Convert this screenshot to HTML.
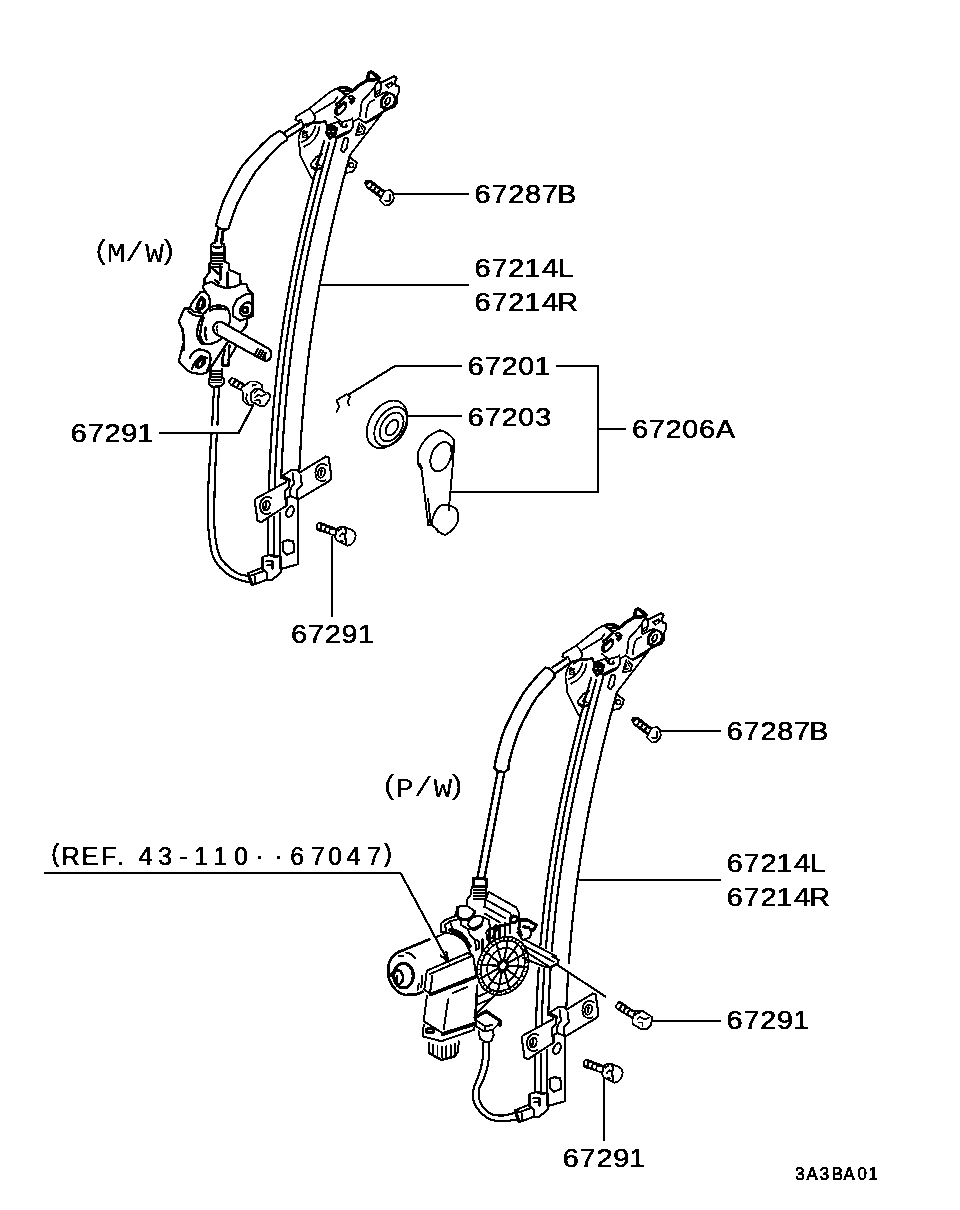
<!DOCTYPE html>
<html lang="en">
<head>
<meta charset="utf-8">
<title>Window regulator diagram</title>
<style>
html,body{margin:0;padding:0;background:#fff;}
body{width:960px;height:1210px;overflow:hidden;}
svg{display:block;}
text{font-family:"Liberation Sans",sans-serif;fill:#000;}
.t{stroke:#000;stroke-width:0.55px;}
.m{font-family:"Liberation Mono",monospace;stroke:#000;stroke-width:0.1px;}
.s{stroke:#000;stroke-width:0.7px;}
.l{stroke:#000;stroke-width:2;fill:none;stroke-linecap:butt;stroke-linejoin:miter;}
.d{stroke:#000;stroke-width:1.8;fill:none;stroke-linecap:round;stroke-linejoin:round;}
.w{fill:#fff;}
.k{fill:#000;}
</style>
</head>
<body>
<svg width="960" height="1210" viewBox="0 0 960 1210">
<defs><filter id="bw" x="0" y="0" width="960" height="1210" filterUnits="userSpaceOnUse" color-interpolation-filters="sRGB"><feComponentTransfer><feFuncA type="discrete" tableValues="0 0 1 1"/></feComponentTransfer></filter></defs>
<rect width="960" height="1210" fill="#fff"/>
<g id="parts" class="d" shape-rendering="crispEdges">
<g id="upper-regulator">
<!-- A_05_rails -->
<g stroke-width="2.185">
<path d="M350.0 155.0L346.7 167.0L343.5 179.0L340.4 191.0L337.4 203.0L334.5 215.0L331.7 227.0L329.0 239.0L326.4 251.0L323.9 263.0L321.5 275.0L319.3 287.0L317.2 299.0L315.2 311.0L313.3 323.0L311.5 335.0L309.8 347.0L308.3 359.0L306.9 371.0L305.6 383.0L304.4 395.0L303.3 407.0L302.4 419.0L301.5 431.0L300.8 443.0L300.1 455.0L299.5 467.0L299.3 472.0"/>
<path d="M336.3 140.0L332.9 152.0L329.6 164.0L326.4 176.0L323.3 188.0L320.2 200.0L317.3 212.0L314.5 224.0L311.7 236.0L309.1 248.0L306.6 260.0L304.2 272.0L301.9 284.0L299.8 296.0L297.7 308.0L295.8 320.0L294.0 332.0L292.3 344.0L290.8 356.0L289.3 368.0L288.0 380.0L286.8 392.0L285.7 404.0L284.7 416.0L283.8 428.0L283.0 440.0L282.4 452.0L281.8 464.0L281.3 476.0L281.2 478.0"/>
<path d="M329.2 143.0L325.9 155.0L322.6 167.0L319.4 179.0L316.3 191.0L313.3 203.0L310.4 215.0L307.6 227.0L304.9 239.0L302.3 251.0L299.8 263.0L297.4 275.0L295.2 287.0L293.1 299.0L291.1 311.0L289.2 323.0L287.4 335.0L285.7 347.0L284.2 359.0L282.8 371.0L281.5 383.0L280.3 395.0L279.2 407.0L278.3 419.0L277.4 431.0L276.7 443.0L276.0 455.0L275.4 467.0L274.9 479.0L274.6 488.0"/>
<path d="M324.1 141.0L320.7 153.0L317.4 165.0L314.2 177.0L311.1 189.0L308.1 201.0L305.2 213.0L302.3 225.0L299.6 237.0L297.0 249.0L294.5 261.0L292.1 273.0L289.9 285.0L287.7 297.0L285.7 309.0L283.8 321.0L282.0 333.0L280.3 345.0L278.8 357.0L277.3 369.0L276.0 381.0L274.8 393.0L273.7 405.0L272.7 417.0L271.9 429.0L271.1 441.0L270.4 453.0L269.8 465.0L269.3 477.0L268.9 489.0L268.9 490.0"/>
</g>
<!-- A_30_bracket -->
<g transform="translate(270 60) scale(0.083333)" stroke-width="23">
<!-- sleeve -->
<path d="M310 680L470 585M310 680L305 720L330 730L375 720L395 770M470 585Q535 640 545 700L530 730"/>
<path d="M400 785L530 750L665 742" stroke-width="34.5"/>
<!-- top edge -->
<path d="M470 585L720 385L790 345"/>
<path d="M545 635L770 500L810 450"/>
<!-- rivet -->
<path d="M795 345L840 325L900 316L950 333L988 360L965 392L905 425L830 365Z" fill="#000" stroke-width="18.4"/>
<path class="w" stroke="none" d="M845 347L892 345L898 358L855 360ZM895 385L952 382L945 400L905 402Z"/>
<path d="M905 435L790 540" stroke-width="34.5"/>
<path d="M935 440L980 425L1020 460L1010 500L975 530L955 510L970 480L945 465Z" fill="#000" stroke-width="16.1"/>
<path class="w" stroke="none" d="M952 445L982 442L978 458L958 458Z"/>
<!-- thick bar to tip -->
<path d="M982 378L1060 308L1160 248L1270 236" stroke-width="41.4"/>
<path d="M1160 238L1175 152L1210 136L1245 150L1318 212L1310 245L1275 240Z" fill="#000" stroke-width="25.3"/>
<path class="w" stroke="none" d="M1198 170L1222 166L1262 214L1202 216Z"/>
<path d="M1310 245L1265 300L1255 350L1255 430L1270 445L1320 420L1360 395L1410 385"/>
<!-- second prong -->
<path d="M1320 270L1340 270L1485 195L1515 205L1520 220L1500 260L1510 310L1545 318L1545 390L1520 440L1520 520L1490 560L1370 612" stroke-width="25.3"/>
<path d="M1320 270L1330 300L1335 340L1320 380"/>
<path d="M1385 300L1460 265L1485 290L1420 340Z" fill="#000" stroke-width="16.1"/>
<path class="w" stroke="none" d="M1420 302L1452 290L1458 305L1428 322Z"/>
<path d="M1270 380L1310 362L1320 390L1280 412Z" stroke-width="18.4"/>
<!-- hole -->
<path d="M1325 520L1340 460L1380 410L1440 392L1490 420L1510 470L1495 530L1440 580L1370 595L1330 560Z" fill="#000" stroke-width="20.7"/>
<path class="w" stroke="none" d="M1388 440L1435 412L1472 430L1488 470L1475 520L1432 558L1388 565L1410 548L1442 515L1455 470L1442 440L1415 445L1385 485L1375 530L1388 565L1360 545L1360 490Z"/>
<ellipse cx="1410" cy="492" rx="26" ry="42" transform="rotate(30 1410 492)" fill="#fff" stroke-width="18.4"/>
<path d="M1400 475L1392 505" stroke-width="16.1"/>
<!-- left slot -->
<path d="M780 640L775 600L800 560L890 500L920 520L920 560L905 590L840 655L800 665Z" fill="#000" stroke-width="16.1"/>
<path class="w" stroke="none" d="M812 602L880 542L896 552L886 588L836 634L816 630Z"/>
<!-- lower edge -->
<path d="M780 680L830 725L865 745L970 715L985 700L995 740L1065 700L1105 735L1150 755L1280 690L1370 612"/>
<path d="M860 745L860 790L900 810L925 790L915 770"/>
<path d="M992 740L995 800L970 840L780 930"/>
<path d="M1150 752L1360 622" stroke-width="29.9"/>
<path d="M1365 615L960 1140"/>
<!-- right tab on L4 -->
<path d="M960 1170L1040 1230L1035 1280L990 1340L920 1355"/>
<circle cx="975" cy="1262" r="28" stroke-width="18.4"/>
<!-- creases -->
<path d="M1080 680L1090 590L1100 510L1120 480L1250 335M1150 690L1160 600L1175 540L1200 505L1245 480"/>
<!-- small tab -->
<path d="M1070 760L1030 900L1120 890L1140 820L1100 770"/>
<path d="M1070 810L1060 870L1100 860M1085 790L1110 830" stroke-width="18.4"/>
<!-- z1 part: left plate -->
<path d="M395 810L360 875L342 950L345 1025L362 1070L355 1130L490 1400L510 1425"/>
<circle cx="418" cy="905" r="28" stroke-width="18.4"/>
<circle cx="418" cy="905" r="7" fill="#000" stroke-width="9.2"/>
<path d="M390 860Q420 850 450 870M440 800L470 780"/>
<path d="M385 985Q510 930 545 795M410 1040Q560 980 595 805"/>
<!-- center hole dark -->
<path d="M690 800L680 880L720 940L780 900L800 820L750 790Z" stroke-width="34.5" fill="#000"/>
<path class="w" stroke="none" d="M700 850h18v18h-18zM745 850h18v18h-18zM715 895h18v18h-18z"/>
<path d="M665 745L690 800M700 780L820 740L850 790L880 810L920 790"/>
<path d="M790 950L960 860"/>
<!-- slot -->
<path d="M890 940L920 930L940 950L920 1060L880 1110L850 1080Z"/>
<!-- ear -->
<path d="M625 1130L555 1165L488 1250L500 1292L545 1322L605 1308"/>
<path d="M580 1190L550 1250L620 1270M510 1280L570 1310L620 1290" stroke-width="20.7"/>
</g>
<!-- A_40_lower -->
<g transform="translate(200 440) scale(0.166667)" stroke-width="12.65">
<!-- cable end piece + connector block -->
<path d="M288 800L368 768L400 795V838L322 868L300 850Z"/>
<path d="M292 808L312 866" stroke-width="20.7"/>
<path d="M312 812L385 785M330 822V850"/>
<path d="M375 768V702L420 688L488 702V792L430 842L400 842"/>
<path d="M398 728H435V775M405 752H432M420 692Q450 706 470 697"/>
<!-- plates -->
<path d="M519 251L334 352L328 364L345 482L367 493L514 397"/>
<path d="M428 350Q398 328 370 360Q352 395 368 430Q390 452 420 440" stroke-width="11.5"/>
<ellipse cx="397" cy="393" rx="20" ry="30" transform="rotate(15 397 393)" stroke-width="11.5"/>
<path d="M398 380L392 408" stroke-width="13.8"/>
<path d="M598 195L755 99L772 105L789 223L778 245L598 352"/>
<path d="M760 152Q730 130 702 162Q684 197 700 232Q722 254 752 242" stroke-width="11.5"/>
<ellipse cx="729" cy="196" rx="20" ry="30" transform="rotate(15 729 196)" stroke-width="11.5"/>
<path d="M730 183L724 211" stroke-width="13.8"/>
<!-- clamp -->
<path d="M491 217L547 181H581L598 195"/>
<path d="M525 234L536 251L531 285L508 307L511 352"/>
<path d="M556 200V234L567 257L547 285L539 307L542 330"/>
<path d="M604 212L607 246L612 268L581 302V352"/>
<path d="M497 225L536 240" stroke-width="23"/>
<path d="M514 352L542 336L581 352"/>
<!-- lower plate -->
<path d="M519 357V395M590 350V745L492 772"/>
<ellipse cx="540" cy="430" rx="20" ry="34" transform="rotate(25 540 430)"/>
<path d="M495 612L520 602L560 605L565 670L520 690L498 668Z"/>
<!-- rails below -->
<path d="M406 470V695M443 460V695M479 440V768"/>
</g>
<!-- A_45_bolt -->
<g transform="translate(302 505) scale(0.0625)" stroke-width="27.6">
<path class="k" stroke="none" d="M260 270L320 278L560 372L540 505L260 418L228 395L225 320Z"/>
<path class="w" stroke="none" d="M258 305L292 298L290 372L258 368ZM325 340L368 330L352 398L322 392ZM390 372L435 362L420 432L388 418ZM452 398L535 392L528 462L458 458Z"/>
<path d="M560 375L600 355H690L800 400L840 430L860 490L840 570L790 630L730 650L660 620L560 570L530 520Z" fill="#fff" stroke-width="29.9"/>
<path d="M690 370L702 420L690 480L702 610" stroke-width="34.5"/>
<path d="M580 410L625 385M600 500L645 450L680 480M620 570L665 585" stroke-width="29.9"/>
</g>
<!-- A_60_screw -->
<g transform="translate(350 165) scale(0.0625)" stroke-width="27.6">
<path class="k" stroke="none" d="M240 245H350L560 410L480 530L260 370L225 290Z"/>
<path class="w" stroke="none" d="M300 290L352 298L318 352L272 340ZM362 332L400 345L372 390L336 375ZM422 375L460 390L432 435L396 418ZM486 422L525 440L498 485L460 465Z"/>
<path d="M560 410L650 405L690 450L700 530L680 590L620 640L560 650L510 600L480 570L500 510Z" fill="#fff" stroke-width="29.9"/>
<path d="M640 480V570H565" stroke-width="29.9"/>
</g>
</g>
<g id="lower-regulator" transform="translate(267 537)">
<!-- A_05_rails -->
<g stroke-width="2.185">
<path d="M350.0 155.0L346.7 167.0L343.5 179.0L340.4 191.0L337.4 203.0L334.5 215.0L331.7 227.0L329.0 239.0L326.4 251.0L323.9 263.0L321.5 275.0L319.3 287.0L317.2 299.0L315.2 311.0L313.3 323.0L311.5 335.0L309.8 347.0L308.3 359.0L306.9 371.0L305.6 383.0L304.4 395.0L303.3 407.0L302.4 419.0L301.5 431.0L300.8 443.0L300.1 455.0L299.5 467.0L299.3 472.0"/>
<path d="M336.3 140.0L332.9 152.0L329.6 164.0L326.4 176.0L323.3 188.0L320.2 200.0L317.3 212.0L314.5 224.0L311.7 236.0L309.1 248.0L306.6 260.0L304.2 272.0L301.9 284.0L299.8 296.0L297.7 308.0L295.8 320.0L294.0 332.0L292.3 344.0L290.8 356.0L289.3 368.0L288.0 380.0L286.8 392.0L285.7 404.0L284.7 416.0L283.8 428.0L283.0 440.0L282.4 452.0L281.8 464.0L281.3 476.0L281.2 478.0"/>
<path d="M329.2 143.0L325.9 155.0L322.6 167.0L319.4 179.0L316.3 191.0L313.3 203.0L310.4 215.0L307.6 227.0L304.9 239.0L302.3 251.0L299.8 263.0L297.4 275.0L295.2 287.0L293.1 299.0L291.1 311.0L289.2 323.0L287.4 335.0L285.7 347.0L284.2 359.0L282.8 371.0L281.5 383.0L280.3 395.0L279.2 407.0L278.3 419.0L277.4 431.0L276.7 443.0L276.0 455.0L275.4 467.0L274.9 479.0L274.6 488.0"/>
<path d="M324.1 141.0L320.7 153.0L317.4 165.0L314.2 177.0L311.1 189.0L308.1 201.0L305.2 213.0L302.3 225.0L299.6 237.0L297.0 249.0L294.5 261.0L292.1 273.0L289.9 285.0L287.7 297.0L285.7 309.0L283.8 321.0L282.0 333.0L280.3 345.0L278.8 357.0L277.3 369.0L276.0 381.0L274.8 393.0L273.7 405.0L272.7 417.0L271.9 429.0L271.1 441.0L270.4 453.0L269.8 465.0L269.3 477.0L268.9 489.0L268.9 490.0"/>
</g>
<!-- A_30_bracket -->
<g transform="translate(270 60) scale(0.083333)" stroke-width="23">
<!-- sleeve -->
<path d="M310 680L470 585M310 680L305 720L330 730L375 720L395 770M470 585Q535 640 545 700L530 730"/>
<path d="M400 785L530 750L665 742" stroke-width="34.5"/>
<!-- top edge -->
<path d="M470 585L720 385L790 345"/>
<path d="M545 635L770 500L810 450"/>
<!-- rivet -->
<path d="M795 345L840 325L900 316L950 333L988 360L965 392L905 425L830 365Z" fill="#000" stroke-width="18.4"/>
<path class="w" stroke="none" d="M845 347L892 345L898 358L855 360ZM895 385L952 382L945 400L905 402Z"/>
<path d="M905 435L790 540" stroke-width="34.5"/>
<path d="M935 440L980 425L1020 460L1010 500L975 530L955 510L970 480L945 465Z" fill="#000" stroke-width="16.1"/>
<path class="w" stroke="none" d="M952 445L982 442L978 458L958 458Z"/>
<!-- thick bar to tip -->
<path d="M982 378L1060 308L1160 248L1270 236" stroke-width="41.4"/>
<path d="M1160 238L1175 152L1210 136L1245 150L1318 212L1310 245L1275 240Z" fill="#000" stroke-width="25.3"/>
<path class="w" stroke="none" d="M1198 170L1222 166L1262 214L1202 216Z"/>
<path d="M1310 245L1265 300L1255 350L1255 430L1270 445L1320 420L1360 395L1410 385"/>
<!-- second prong -->
<path d="M1320 270L1340 270L1485 195L1515 205L1520 220L1500 260L1510 310L1545 318L1545 390L1520 440L1520 520L1490 560L1370 612" stroke-width="25.3"/>
<path d="M1320 270L1330 300L1335 340L1320 380"/>
<path d="M1385 300L1460 265L1485 290L1420 340Z" fill="#000" stroke-width="16.1"/>
<path class="w" stroke="none" d="M1420 302L1452 290L1458 305L1428 322Z"/>
<path d="M1270 380L1310 362L1320 390L1280 412Z" stroke-width="18.4"/>
<!-- hole -->
<path d="M1325 520L1340 460L1380 410L1440 392L1490 420L1510 470L1495 530L1440 580L1370 595L1330 560Z" fill="#000" stroke-width="20.7"/>
<path class="w" stroke="none" d="M1388 440L1435 412L1472 430L1488 470L1475 520L1432 558L1388 565L1410 548L1442 515L1455 470L1442 440L1415 445L1385 485L1375 530L1388 565L1360 545L1360 490Z"/>
<ellipse cx="1410" cy="492" rx="26" ry="42" transform="rotate(30 1410 492)" fill="#fff" stroke-width="18.4"/>
<path d="M1400 475L1392 505" stroke-width="16.1"/>
<!-- left slot -->
<path d="M780 640L775 600L800 560L890 500L920 520L920 560L905 590L840 655L800 665Z" fill="#000" stroke-width="16.1"/>
<path class="w" stroke="none" d="M812 602L880 542L896 552L886 588L836 634L816 630Z"/>
<!-- lower edge -->
<path d="M780 680L830 725L865 745L970 715L985 700L995 740L1065 700L1105 735L1150 755L1280 690L1370 612"/>
<path d="M860 745L860 790L900 810L925 790L915 770"/>
<path d="M992 740L995 800L970 840L780 930"/>
<path d="M1150 752L1360 622" stroke-width="29.9"/>
<path d="M1365 615L960 1140"/>
<!-- right tab on L4 -->
<path d="M960 1170L1040 1230L1035 1280L990 1340L920 1355"/>
<circle cx="975" cy="1262" r="28" stroke-width="18.4"/>
<!-- creases -->
<path d="M1080 680L1090 590L1100 510L1120 480L1250 335M1150 690L1160 600L1175 540L1200 505L1245 480"/>
<!-- small tab -->
<path d="M1070 760L1030 900L1120 890L1140 820L1100 770"/>
<path d="M1070 810L1060 870L1100 860M1085 790L1110 830" stroke-width="18.4"/>
<!-- z1 part: left plate -->
<path d="M395 810L360 875L342 950L345 1025L362 1070L355 1130L490 1400L510 1425"/>
<circle cx="418" cy="905" r="28" stroke-width="18.4"/>
<circle cx="418" cy="905" r="7" fill="#000" stroke-width="9.2"/>
<path d="M390 860Q420 850 450 870M440 800L470 780"/>
<path d="M385 985Q510 930 545 795M410 1040Q560 980 595 805"/>
<!-- center hole dark -->
<path d="M690 800L680 880L720 940L780 900L800 820L750 790Z" stroke-width="34.5" fill="#000"/>
<path class="w" stroke="none" d="M700 850h18v18h-18zM745 850h18v18h-18zM715 895h18v18h-18z"/>
<path d="M665 745L690 800M700 780L820 740L850 790L880 810L920 790"/>
<path d="M790 950L960 860"/>
<!-- slot -->
<path d="M890 940L920 930L940 950L920 1060L880 1110L850 1080Z"/>
<!-- ear -->
<path d="M625 1130L555 1165L488 1250L500 1292L545 1322L605 1308"/>
<path d="M580 1190L550 1250L620 1270M510 1280L570 1310L620 1290" stroke-width="20.7"/>
</g>
<!-- A_40_lower -->
<g transform="translate(200 440) scale(0.166667)" stroke-width="12.65">
<!-- cable end piece + connector block -->
<path d="M288 800L368 768L400 795V838L322 868L300 850Z"/>
<path d="M292 808L312 866" stroke-width="20.7"/>
<path d="M312 812L385 785M330 822V850"/>
<path d="M375 768V702L420 688L488 702V792L430 842L400 842"/>
<path d="M398 728H435V775M405 752H432M420 692Q450 706 470 697"/>
<!-- plates -->
<path d="M519 251L334 352L328 364L345 482L367 493L514 397"/>
<path d="M428 350Q398 328 370 360Q352 395 368 430Q390 452 420 440" stroke-width="11.5"/>
<ellipse cx="397" cy="393" rx="20" ry="30" transform="rotate(15 397 393)" stroke-width="11.5"/>
<path d="M398 380L392 408" stroke-width="13.8"/>
<path d="M598 195L755 99L772 105L789 223L778 245L598 352"/>
<path d="M760 152Q730 130 702 162Q684 197 700 232Q722 254 752 242" stroke-width="11.5"/>
<ellipse cx="729" cy="196" rx="20" ry="30" transform="rotate(15 729 196)" stroke-width="11.5"/>
<path d="M730 183L724 211" stroke-width="13.8"/>
<!-- clamp -->
<path d="M491 217L547 181H581L598 195"/>
<path d="M525 234L536 251L531 285L508 307L511 352"/>
<path d="M556 200V234L567 257L547 285L539 307L542 330"/>
<path d="M604 212L607 246L612 268L581 302V352"/>
<path d="M497 225L536 240" stroke-width="23"/>
<path d="M514 352L542 336L581 352"/>
<!-- lower plate -->
<path d="M519 357V395M590 350V745L492 772"/>
<ellipse cx="540" cy="430" rx="20" ry="34" transform="rotate(25 540 430)"/>
<path d="M495 612L520 602L560 605L565 670L520 690L498 668Z"/>
<!-- rails below -->
<path d="M406 470V695M443 460V695M479 440V768"/>
</g>
<!-- A_45_bolt -->
<g transform="translate(302 505) scale(0.0625)" stroke-width="27.6">
<path class="k" stroke="none" d="M260 270L320 278L560 372L540 505L260 418L228 395L225 320Z"/>
<path class="w" stroke="none" d="M258 305L292 298L290 372L258 368ZM325 340L368 330L352 398L322 392ZM390 372L435 362L420 432L388 418ZM452 398L535 392L528 462L458 458Z"/>
<path d="M560 375L600 355H690L800 400L840 430L860 490L840 570L790 630L730 650L660 620L560 570L530 520Z" fill="#fff" stroke-width="29.9"/>
<path d="M690 370L702 420L690 480L702 610" stroke-width="34.5"/>
<path d="M580 410L625 385M600 500L645 450L680 480M620 570L665 585" stroke-width="29.9"/>
</g>
<!-- A_60_screw -->
<g transform="translate(350 165) scale(0.0625)" stroke-width="27.6">
<path class="k" stroke="none" d="M240 245H350L560 410L480 530L260 370L225 290Z"/>
<path class="w" stroke="none" d="M300 290L352 298L318 352L272 340ZM362 332L400 345L372 390L336 375ZM422 375L460 390L432 435L396 418ZM486 422L525 440L498 485L460 465Z"/>
<path d="M560 410L650 405L690 450L700 530L680 590L620 640L560 650L510 600L480 570L500 510Z" fill="#fff" stroke-width="29.9"/>
<path d="M640 480V570H565" stroke-width="29.9"/>
</g>
</g>
<!-- T_10_drum -->
<g transform="translate(160 230) scale(0.125)" stroke-width="18.4">
<!-- cable rod into adjuster -->
<path d="M463 0L440 100M503 0L487 105"/>
<path d="M440 100Q408 105 407 130V262M487 105Q515 108 515 130V250M407 178Q460 196 515 178M428 133Q462 150 494 133"/>
<path d="M422 200H498M422 224H498M422 248H498M422 272H498M422 294H498" stroke-width="14.95"/>
<path d="M407 262L396 268V338L356 390V432L342 458L360 492"/>
<path d="M410 300L468 350M482 292V400M440 400L470 425" stroke-width="20.7"/>
<path d="M515 250L550 268L556 320L640 355L645 432L690 430L710 485L740 505V690L700 705"/>
<path d="M540 340V455M356 434L412 415L452 440L530 466L600 452L645 432"/>
<!-- left ear -->
<path d="M360 492L320 500L250 590L240 627L272 655L330 662M360 492L388 522L402 575L390 625L360 662"/>
<path d="M335 535Q295 575 292 630Q330 650 358 605Q372 560 335 535Z" stroke-width="20.7" fill="#000"/>
<path class="w" stroke="none" d="M322 575L338 568L328 612L314 615Z"/>
<path d="M240 628H195L150 730L180 800L192 900L190 960M228 650Q270 695 335 690"/>
<!-- drum -->
<path d="M335 690Q370 630 430 608Q500 595 540 625Q565 660 558 735L545 765"/>
<path d="M400 645Q450 615 525 635"/>
<path d="M335 690Q300 760 296 830Q305 890 340 912Q400 922 460 892L500 862"/>
<path d="M350 700Q322 770 322 850Q335 895 350 905M365 780Q355 830 372 875"/>
<path d="M500 740Q460 725 432 760Q415 800 445 830"/>
<path d="M458 765Q445 790 462 815" stroke-width="11.5"/>
<!-- right ear -->
<path d="M740 505L690 512L620 552L582 620L586 690L640 725L700 705"/>
<path d="M735 600Q720 570 680 585Q640 610 638 650Q650 695 690 690Q730 680 740 650" />
<circle cx="682" cy="640" r="22" stroke-width="25.3"/>
<path d="M700 705L690 770L650 812"/>
<!-- D2 (y+640) -->
<path d="M190 960L192 900M185 790L190 900L150 1050L215 1120L250 1140L330 1155L370 1140L395 1110"/>
<path d="M240 1020Q260 975 300 958Q350 950 395 985Q410 1020 400 1070L380 1120"/>
<path d="M255 1110Q275 1050 330 1010L375 1025"/>
<path d="M335 1015Q295 1045 290 1095Q330 1110 355 1065Q365 1035 335 1015Z" stroke-width="20.7" fill="#000"/>
<path class="w" stroke="none" d="M318 1055L334 1048L326 1082L312 1085Z"/>
<!-- shaft -->
<path d="M500 740L870 950M445 830L770 1010"/>
<path d="M870 950Q900 975 885 1020Q865 1055 835 1045L770 1010"/>
<path d="M850 985Q830 1010 845 1040" stroke-width="11.5"/>
<path d="M785 950L760 998M805 960L780 1010M825 972L800 1022M845 982L820 1032" stroke-width="18.4"/>
<!-- linkage -->
<path d="M540 900L400 1110M612 930L545 1040M556 920L548 1080M520 960L505 1010M500 1020V1085H548"/>
<!-- lower adjuster -->
<path d="M410 1126H492M410 1150H492M410 1174H492M410 1198H492M410 1220H492" stroke-width="14.95"/>
<path d="M405 1115V1180L390 1190V1230L420 1255L490 1250L510 1222V1190L495 1180V1115"/>
</g>
<!-- T_20_cable -->
<g transform="translate(201 121) scale(0.125)" stroke-width="18.4">
<path d="M125 820Q135 760 180 640Q240 500 330 360Q440 230 550 130L625 80"/>
<path d="M220 860Q245 780 290 660Q350 540 440 400Q540 280 640 185L690 150"/>
<path d="M625 80L660 95L685 125L690 150"/>
<path d="M125 820L118 835L150 860L200 870L220 860"/>
<path d="M670 88L790 12M697 128L822 48"/>
<path d="M137 865L127 960M180 875L172 960"/>
</g>
<!-- T_40_cableU -->
<g stroke-width="2.185">
<path d="M214.3 388.0C214.1 390.0 213.7 393.8 213.3 400.0C213.0 406.2 212.4 420.8 212.2 425.0"/>
<path d="M211.6 434.0C211.5 435.0 211.4 434.0 211.0 440.0C210.6 446.0 209.7 460.8 209.2 470.0C208.7 479.2 208.2 486.7 208.0 495.0C207.8 503.3 207.7 513.0 207.9 520.0C208.1 527.0 208.4 530.9 209.2 536.7C210.0 542.5 210.7 549.9 212.5 555.0C214.3 560.1 216.8 563.9 220.0 567.5C223.2 571.1 227.9 574.5 231.7 576.7C235.4 578.9 239.4 579.8 242.5 580.8C245.6 581.8 248.8 582.2 250.0 582.5"/>
<path d="M219.3 388.0C219.1 390.0 218.6 393.8 218.3 400.0C218.0 406.2 217.6 420.8 217.5 425.0"/>
<path d="M217.0 434.0C216.9 435.0 216.8 434.0 216.5 440.0C216.2 446.0 215.6 460.8 215.3 470.0C215.0 479.2 214.7 486.7 214.5 495.0C214.3 503.3 214.0 512.4 214.2 520.0C214.4 527.6 214.8 534.7 215.8 540.8C216.8 546.9 217.9 552.4 220.0 556.7C222.1 561.0 225.1 563.8 228.3 566.7C231.5 569.6 235.9 572.7 239.2 574.2C242.5 575.7 246.8 575.5 248.3 575.8"/>
</g>
<!-- T_50_crank -->
<g transform="translate(320 380) scale(0.166667)" stroke-width="11.5">
<!-- clip -->
<path d="M100 190L115 160L100 122L160 85L180 100L165 130L175 150"/>
<!-- washer -->
<ellipse cx="402" cy="266" rx="105" ry="155" transform="rotate(32 402 266)"/>
<ellipse cx="425" cy="280" rx="85" ry="128" transform="rotate(32 425 280)"/>
<ellipse cx="430" cy="282" rx="60" ry="95" transform="rotate(32 430 282)"/>
<ellipse cx="432" cy="286" rx="30" ry="52" transform="rotate(32 432 286)"/>
<!-- crank -->
<path d="M650 872L610 540L585 500L590 430Q630 330 720 302Q775 315 805 362L800 470L775 755"/>
<path d="M600 505L612 530M649 712L664 870"/>
<ellipse cx="726" cy="460" rx="58" ry="92" transform="rotate(22 726 460)"/>
<path d="M795 400V470" stroke-width="18.4"/>
<path d="M649 872L671 872Q672 800 720 755Q765 740 817 772Q835 800 825 855Q800 905 750 930Q715 920 690 885L671 872"/>
<path d="M775 758V780M705 895V915"/>
</g>
<!-- T_60_bolt -->
<g transform="translate(222 368) scale(0.0625)" stroke-width="27.6">
<path class="k" stroke="none" d="M150 150L200 155L380 260L330 385L130 280L100 230V200Z"/>
<path class="w" stroke="none" d="M160 172L195 185L162 260L130 245ZM228 222L265 235L228 295L192 275ZM290 260L325 275L292 326L258 310ZM345 295L370 308L342 354L314 340Z"/>
<path d="M380 270L450 215H550L640 270L650 340M340 390L330 510L390 575L450 595L500 590M400 420L380 500L420 560"/>
<path d="M490 280L540 265" stroke-width="32.2"/>
<path d="M460 400L520 340L600 330L680 390L740 395L765 430L760 500L690 600L610 610L540 570L480 545L460 490Z" fill="#fff" stroke-width="29.9"/>
<path d="M520 400L560 360M530 470L580 430L640 450L700 420M530 520L600 510L610 560" stroke-width="27.6"/>
</g>
<!-- B_10_gaps -->
<path class="w" stroke="none" d="M565 964h8v9h-8z"/>
<!-- B_20_cable -->
<g transform="translate(467 657) scale(0.125)" stroke-width="19.55">
<path d="M625 85Q540 170 450 290Q370 420 300 580Q250 720 225 850L220 890L250 915L300 920L330 900"/>
<path d="M705 155Q640 230 560 320Q480 440 410 600Q360 740 335 850L330 900"/>
<path d="M625 85L665 95L690 120L705 155"/>
<path d="M685 82L790 15M712 127L822 50"/>
<path d="M244 925L84 1764M298 928L138 1777"/>
</g>
<!-- B_30_motor -->
<g transform="translate(380 870) scale(0.125)" stroke-width="16.1">
<path class="w" stroke="none" d="M1100 520L1440 690L1400 790L1120 760Z"/>
<path d="M395 555L190 640Q110 660 75 735Q55 810 75 880Q100 940 150 980L200 1000L290 995L340 975" stroke-width="21.85"/>
<ellipse cx="188" cy="845" rx="78" ry="98" stroke-width="25.3"/>
<path d="M85 845Q100 800 150 800Q185 820 185 870Q175 910 140 925" stroke-width="21.85"/>
<path d="M135 850V900M205 660Q255 665 280 705M150 690H185"/>
<path d="M445 540L520 505Q620 500 690 590L725 665"/>
<path d="M560 480Q660 505 720 610" stroke-width="29.9"/>
<path d="M375 805L700 665L745 685L770 845L400 990L355 955Z" fill="#fff"/>
<path d="M400 832L725 692M420 845L400 985"/>
<path d="M405 998L770 855" stroke-width="25.3"/>
<path d="M340 845L330 940M310 910L300 960"/>
<path d="M640 905L700 880" stroke-width="34.5"/>
<path d="M375 1005L350 1210M780 920L765 1210M350 1210L500 1305L765 1220M350 1240L340 1330L490 1370L750 1280L765 1220M545 1035L510 1275M580 985L700 935"/>
<path d="M500 1315L760 1232" stroke-width="27.6"/>
<ellipse cx="400" cy="1285" rx="32" ry="18" stroke-width="23"/>
<path d="M390 1380V1460L490 1520L600 1490L625 1450L630 1370"/>
<path d="M425 1395V1470M460 1405V1485M495 1415V1500M530 1410V1495M565 1400V1485M598 1390V1470" stroke-width="14.95"/>
<path d="M395 1465L490 1520L600 1490" stroke-width="20.7"/>
<path d="M745 70V135H850V75Q800 60 745 70Z" stroke-width="25.3"/>
<path d="M748 160H846M748 184H842M748 208H838M750 232H835" stroke-width="14.95"/>
<path d="M735 135L725 200L700 230L690 290M850 135L845 230L835 300"/>
<path d="M485 430L520 400L600 370L620 300L650 285L700 290L760 330"/>
<path d="M485 430L490 500L530 490L520 440L560 410L640 390"/>
<path d="M620 300L615 360L640 390L700 400L740 370L760 330" stroke-width="25.3"/>
<path d="M640 390L650 440L700 470L720 520M560 410L580 470L650 500L700 560"/>
<ellipse cx="765" cy="415" rx="65" ry="40" transform="rotate(-30 765 415)"/>
<path d="M700 470L760 480L820 440M720 520L760 560L770 640M830 380L870 400L880 460L850 500"/>
<path d="M770 560L790 570L790 630L770 640" />
<path d="M820 560V700L800 760L790 850" stroke-width="27.6"/>
<path d="M850 500L860 560L900 540L940 470L930 440" />
<path d="M850 230L870 175L1090 300L1110 340V380"/>
<path d="M860 245L1040 345L1060 380M850 300L1000 385M840 350L960 420"/>
<circle cx="1070" cy="395" r="28" stroke-width="23"/>
<path d="M1110 400L1180 400L1250 440L1230 480L1200 480M1120 410L1110 470L1130 520M1150 455L1190 460" stroke-width="25.3"/>
<path d="M1100 500L1140 560L1200 540L1210 500"/>
<path d="M880 470L870 620M920 450L910 590M960 440L955 560M1000 430V520M1040 430V500M880 470L1040 430" stroke-width="23"/>
<g transform="rotate(27 983 767)">
<ellipse cx="983" cy="767" rx="196" ry="241" fill="#fff" stroke-width="14.95"/>
<ellipse cx="983" cy="767" rx="166" ry="211" stroke-width="14.95"/>
<ellipse cx="983" cy="767" rx="118" ry="150" stroke-width="14.95"/>
<ellipse cx="983" cy="767" rx="34" ry="43" stroke-width="29.9"/>
<path d="M1020 775 L1150 804M1012 797 L1113 905M996 811 L1041 969M977 814 L953 979M959 803 L874 932M948 783 L823 841M946 759 L816 730M954 737 L853 629M970 723 L925 565M989 720 L1013 555M1007 731 L1092 602M1018 751 L1143 693" stroke-width="17.25"/>
<path d="M1149 767 L1179 767M1146 804 L1176 809M1139 839 L1167 849M1127 872 L1153 888M1110 903 L1133 922M1090 929 L1109 952M1066 950 L1081 976M1040 965 L1050 993M1012 975 L1017 1004M983 978 L983 1008M954 975 L949 1004M926 965 L916 993M900 950 L885 976M876 929 L857 952M856 903 L833 922M839 872 L813 888M827 839 L799 849M820 804 L790 809M817 767 L787 767M820 730 L790 725M827 695 L799 685M839 662 L813 646M856 631 L833 612M876 605 L857 582M900 584 L885 558M926 569 L916 541M954 559 L949 530M983 556 L983 526M1012 559 L1017 530M1040 569 L1050 541M1066 584 L1081 558M1090 605 L1109 582M1110 631 L1133 612M1127 661 L1153 646M1139 695 L1167 685M1146 730 L1176 725" stroke-width="10.35"/>
</g>
<path d="M1160 560L1410 690M1150 605L1390 735M1160 650L1340 765M1145 705L1320 775" stroke-width="16.1"/>
<path d="M1380 690L1430 720L1420 750L1360 780L1330 770" stroke-width="18.4"/>
<path d="M775 940L760 1180M790 1010L900 960M770 1080L890 1030M760 1160L940 980L1000 960"/>
<path d="M850 1130L965 1210L960 1240M760 1180L850 1130" stroke-width="27.6"/>
<path d="M760 1180L770 1250L830 1290L900 1280L940 1240L965 1210M780 1210L840 1250L900 1240M840 1250V1290"/>
<path d="M790 1290L800 1350L850 1380L890 1370L910 1320L900 1280"/>
</g>
<!-- B_40_cableU -->
<g stroke-width="2.185">
<path d="M483.3 1042.5C483.2 1044.9 483.3 1052.4 482.9 1056.7C482.5 1061.0 481.7 1064.7 480.8 1068.3C479.9 1071.9 478.6 1075.2 477.5 1078.3C476.4 1081.4 475.0 1084.0 474.2 1086.7C473.4 1089.4 472.9 1091.4 472.9 1094.2C472.9 1097.0 473.0 1100.4 474.2 1103.3C475.4 1106.2 477.9 1109.3 480.0 1111.7C482.1 1114.1 484.4 1116.0 486.7 1117.5C489.0 1119.0 491.3 1119.9 494.0 1120.5C496.7 1121.1 500.0 1121.3 503.0 1121.3C506.0 1121.3 509.4 1120.6 512.0 1120.3C514.6 1120.0 517.6 1119.5 518.7 1119.3"/>
<path d="M489.2 1042.5C489.1 1045.1 489.2 1053.7 488.8 1058.3C488.3 1062.9 487.6 1066.4 486.7 1070.0C485.8 1073.6 484.5 1077.1 483.3 1080.0C482.1 1082.9 480.4 1085.0 479.6 1087.5C478.8 1090.0 478.7 1092.6 478.8 1095.0C478.8 1097.4 479.0 1099.3 480.0 1101.7C481.0 1104.1 482.9 1107.1 485.0 1109.2C487.1 1111.3 489.4 1113.5 492.5 1114.5C495.6 1115.5 499.8 1115.7 503.3 1115.5C506.8 1115.3 510.8 1114.0 513.3 1113.3C515.8 1112.5 517.5 1111.4 518.3 1111.0"/>
</g>
<!-- B_60_bolt -->
<g transform="translate(600 985) scale(0.0625)" stroke-width="27.6">
<path class="k" stroke="none" d="M290 262L340 262L560 418L520 548L280 402L243 362V330Z"/>
<path class="w" stroke="none" d="M285 300L335 308L302 370L266 355ZM358 335L392 348L362 415L330 395ZM418 380L470 382L418 450L398 432ZM478 412L560 450L522 500L462 468Z"/>
<path d="M560 420H690L830 510L820 640L750 710H660L520 620V545Z" fill="#fff" stroke-width="29.9"/>
<path d="M600 540L640 510L720 550L790 520M620 600H680V660M560 480L600 450L640 440" stroke-width="29.9"/>
</g>
</g>
<g id="leaders" class="l" shape-rendering="crispEdges">
<path d="M393.5 194H469"/>
<path d="M320 285H469"/>
<path d="M348.8 394.5L395 366" stroke-width="2.2"/>
<path d="M394 366H462"/>
<path d="M556 366H598V492H451"/>
<path d="M598 429H626"/>
<path d="M407.5 416H462"/>
<path d="M159 433H239"/>
<path d="M238.5 433L253.5 405" stroke-width="2.4"/>
<path d="M332 536V617"/>
<path d="M660.5 731H721"/>
<path d="M579 880H721"/>
<path d="M652 1021H721"/>
<path d="M604 1078V1141"/>
<path d="M44 873H401"/>
<path d="M400.6 873L448.1 961.3M440 955L448.1 961.3L446.3 951.3" stroke-width="2.2"/>
<path d="M557.5 965L606 997" stroke-width="2.2"/>
</g>
<g id="labels" filter="url(#bw)">
<text class="t" font-size="26.2" transform="scale(1.100,1)" x="431.44 446.79 462.08 477.35 492.61 506.51" y="202.8">67287B</text>
<text class="t" font-size="26.2" transform="scale(1.100,1)" x="431.44 446.79 462.08 476.72 492.71 507.26" y="276.7">67214L</text>
<text class="t" font-size="26.2" transform="scale(1.100,1)" x="431.44 446.79 462.08 476.72 492.71 506.53" y="310.7">67214R</text>
<text class="t" font-size="26.2" transform="scale(1.100,1)" x="425.26 440.61 455.90 471.17 485.81" y="374.8">67201</text>
<text class="t" font-size="26.2" transform="scale(1.100,1)" x="425.26 440.61 455.90 471.17 486.52" y="425.7">67203</text>
<text class="t" font-size="26.2" transform="scale(1.100,1)" x="574.44 589.79 605.08 620.35 635.53 650.81" y="438.3">67206A</text>
<text class="t" font-size="26.2" transform="scale(1.100,1)" x="64.35 79.70 94.99 110.27 124.90" y="442.5">67291</text>
<text class="t" font-size="26.2" transform="scale(1.100,1)" x="264.62 279.97 295.26 310.54 325.17" y="642.8">67291</text>
<text class="t" font-size="26.2" transform="scale(1.100,1)" x="660.62 675.97 691.26 706.53 721.79 735.70" y="739.6">67287B</text>
<text class="t" font-size="26.2" transform="scale(1.100,1)" x="660.62 675.97 691.26 705.90 721.89 736.44" y="871.8">67214L</text>
<text class="t" font-size="26.2" transform="scale(1.100,1)" x="660.62 675.97 691.26 705.90 721.89 735.71" y="906.0">67214R</text>
<text class="t" font-size="26.2" transform="scale(1.100,1)" x="660.53 675.88 691.17 706.45 721.08" y="1029.4">67291</text>
<text class="t" font-size="26.2" transform="scale(1.100,1)" x="511.53 526.88 542.17 557.45 572.08" y="1167.0">67291</text>
<text class="m" font-size="27.0" transform="scale(1.150,1)" x="80.31 93.04 108.96 126.34 137.78" y="259.5 262.5 261.0 262.5 259.5">(M/W)</text>
<text class="m" font-size="27.0" transform="scale(1.150,1)" x="331.18 343.73 359.91 377.04 388.73" y="794.5 797.5 796.0 797.5 794.5">(P/W)</text>
<text class="t" font-size="26.4" transform="scale(0.940,1)" x="54.65 65.79 86.96 107.61 124.26 130.38 147.26 168.27 191.08 206.66 227.09 248.94 271.89 291.78 308.74 330.94 349.31 368.70 390.78 408.37" y="862.0 865.0 865.0 865.0 865.0 865.0 865.0 865.0 865.0 865.0 865.0 865.0 865.0 865.0 865.0 865.0 865.0 865.0 865.0 862.0">(REF. 43-110··67047)</text>
<text class="s" font-size="18.7" transform="scale(0.900,1)" x="883.52 896.10 910.74 924.16 937.21 952.69 965.10" y="1179.8">3A3BA01</text>
</g>
</svg>
</body>
</html>
